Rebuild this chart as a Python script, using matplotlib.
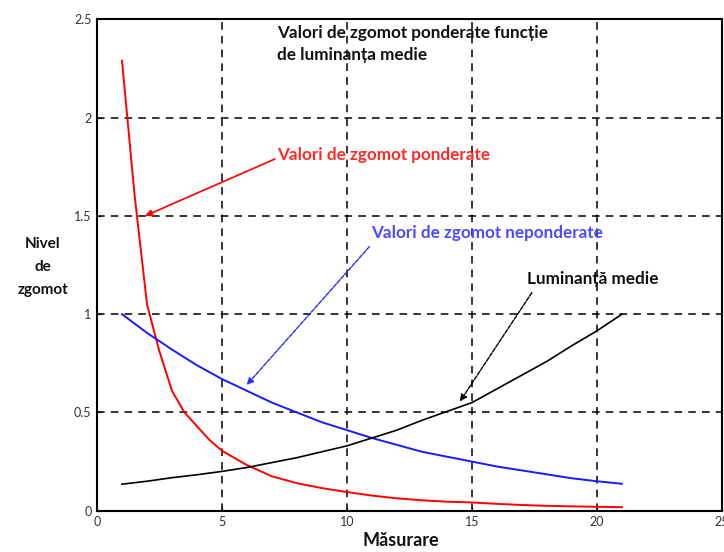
import matplotlib.pyplot as plt

# === Data ===
masurare = list(range(1, 22))
# weighted noise is sampled more finely at the start, where it drops fast
masurare_ponderat = [1, 1.5, 2, 2.5, 3, 3.5, 4, 4.5, 5, 6, 7, 8, 9, 10, 11,
                     12, 13, 14, 15, 16, 17, 18, 19, 20, 21]
zgomot_ponderat = [2.29, 1.61, 1.05, 0.81, 0.61, 0.50, 0.43, 0.36, 0.305, 0.232, 0.175,
                   0.14, 0.115, 0.095, 0.077, 0.063, 0.053, 0.046, 0.042, 0.035, 0.029,
                   0.025, 0.022, 0.02, 0.018]
zgomot_neponderat = [1.0, 0.905, 0.82, 0.74, 0.67, 0.61, 0.55, 0.50, 0.45, 0.41, 0.37,
                     0.335, 0.30, 0.275, 0.25, 0.225, 0.205, 0.185, 0.165, 0.15, 0.137]
luminanta_medie = [0.135, 0.15, 0.168, 0.183, 0.2, 0.22, 0.245, 0.27, 0.30, 0.33, 0.37,
                   0.41, 0.46, 0.505, 0.55, 0.62, 0.69, 0.76, 0.84, 0.915, 1.0]

x_ticks = [0, 5, 10, 15, 20, 25]
x_ticklabels = ["0", "5", "10", "15", "20", "25"]
y_ticks = [0, 0.5, 1, 1.5, 2, 2.5]
y_ticklabels = ["0", "0.5", "1", "1.5", "2", "2.5"]

plt.rcParams['font.family'] = ['Lato', 'DejaVu Sans']

fig = plt.figure(figsize=(7.24, 5.52), dpi=100)
ax = fig.add_axes([0.134, 0.0748, 0.863, 0.890])

# curves
ax.plot(masurare_ponderat, zgomot_ponderat, color='#ff0000', linewidth=1.4)
ax.plot(masurare, zgomot_neponderat, color='#1a1aff', linewidth=1.4)
ax.plot(masurare, luminanta_medie, color='black', linewidth=1.2)

ax.set_xlim(0, 25)
ax.set_ylim(0, 2.5)
ax.set_xticks(x_ticks)
ax.set_xticklabels(x_ticklabels)
ax.set_yticks(y_ticks)
ax.set_yticklabels(y_ticklabels)
ax.tick_params(direction='in', length=3, labelsize=9, labelcolor='#333333', pad=4)

ax.grid(True, color='black', linestyle=(0, (5, 4)), linewidth=1.1)
for s in ax.spines.values():
    s.set_linewidth(1.5)

# annotations
fs = 12.3
ax.text(7.2, 2.374, "Valori de zgomot ponderate funcție\nde luminanța medie",
        fontsize=fs, fontweight='bold', color='#111111', va='center', ha='left',
        linespacing=1.45)

ax.text(7.2, 1.811, "Valori de zgomot ponderate", fontsize=fs, fontweight='bold',
        color='#ff2a2a', va='center', ha='left')
ax.annotate("", xy=(1.92, 1.5), xytext=(7.12, 1.79),
            arrowprops=dict(arrowstyle='-|>', color='#ff0000', lw=1.2, mutation_scale=10,
                            shrinkA=0, shrinkB=0))

ax.text(10.95, 1.412, "Valori de zgomot neponderate", fontsize=fs, fontweight='bold',
        color='#4b4bff', va='center', ha='left')
ax.annotate("", xy=(5.99, 0.64), xytext=(10.9, 1.344),
            arrowprops=dict(arrowstyle='-|>', color='#2a2aff', lw=1.0, mutation_scale=10,
                            linestyle=(0, (3, 1)), shrinkA=0, shrinkB=0))

ax.text(17.19, 1.18, "Luminanță medie", fontsize=fs, fontweight='bold',
        color='#111111', va='center', ha='left')
ax.annotate("", xy=(14.52, 0.556), xytext=(17.4, 1.11),
            arrowprops=dict(arrowstyle='-|>', color='black', lw=1.0, mutation_scale=10,
                            linestyle=(0, (3, 1)), shrinkA=0, shrinkB=0))

# axis labels
fig.text(0.554, 0.0217, "Măsurare", fontsize=13, fontweight='bold',
         color='#111111', ha='center', va='center')
fig.text(0.059, 0.516, "Nivel\nde\nzgomot", fontsize=11, fontweight='bold',
         color='#111111', ha='center', va='center', linespacing=1.8)

fig.savefig("out.png", dpi=100)
